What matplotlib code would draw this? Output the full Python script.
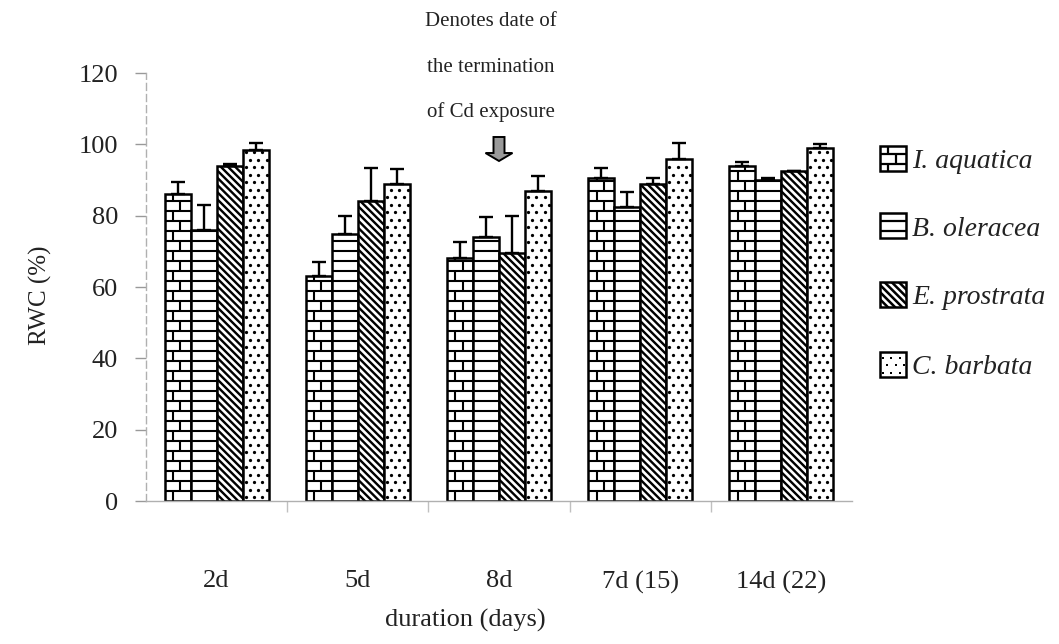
import numpy as np
import matplotlib
matplotlib.use("Agg")
import matplotlib.pyplot as plt
from matplotlib.patches import Rectangle, Polygon
from matplotlib.collections import LineCollection
from matplotlib.transforms import IdentityTransform

# ---- data -------------------------------------------------------------
durations = ["2d", "5d", "8d", "7d (15)", "14d (22)"]
species = ["I. aquatica", "B. oleracea", "E. prostrata", "C. barbata"]

rwc_aquatica = [86.0, 63.0, 68.0, 90.5, 94.0]
rwc_oleracea = [76.0, 75.0, 74.0, 82.5, 90.0]
rwc_prostrata = [94.0, 84.0, 69.5, 89.0, 92.5]
rwc_barbata = [98.5, 89.0, 87.0, 96.0, 99.0]

err_aquatica = [3.5, 4.0, 4.5, 3.0, 1.0]
err_oleracea = [7.0, 5.0, 5.5, 4.0, 0.7]
err_prostrata = [0.5, 9.5, 10.5, 1.5, 0.0]
err_barbata = [2.0, 4.0, 4.0, 4.5, 1.0]

y_ticks = [0, 20, 40, 60, 80, 100, 120]
note_lines = ["Denotes date of", "the termination", "of Cd exposure"]
marked_group = 2          # the "8d" group carries the arrow

series = [rwc_aquatica, rwc_oleracea, rwc_prostrata, rwc_barbata]
errors = [err_aquatica, err_oleracea, err_prostrata, err_barbata]
patterns = ["brick", "hlines", "diag", "dots"]

# ---- style ------------------------------------------------------------
SERIF = ["Liberation Serif", "DejaVu Serif"]
plt.rcParams["font.family"] = SERIF
TEXT = "#222222"
AXIS_GREY = "#b0b0b0"

W, H = 1059, 644
fig = plt.figure(figsize=(W / 100, H / 100), dpi=100)
ax = fig.add_axes([146 / W, (H - 501) / H, 706 / W, 428 / H])
ax.set_xlim(-0.5, len(durations) - 0.5)
ax.set_ylim(0, 120)


def pattern_artists(x0, y0, x1, y1, kind, lw=1.5):
    """Build hatch-like line segments and dot centres in pixel coordinates."""
    segs = []
    dots = None
    if kind in ("brick", "hlines"):
        step = 10.0
        ys = np.arange(y0 + step, y1, step)
        for y in ys:
            segs.append([(x0, y), (x1, y)])
        if kind == "brick":
            edges = np.concatenate([[y0], ys, [y1]])
            for k in range(len(edges) - 1):
                frac = 0.32 if k % 2 == 0 else 0.6
                xd = x0 + frac * (x1 - x0)
                segs.append([(xd, edges[k]), (xd, edges[k + 1])])
    elif kind == "diag":
        step = 7.2
        for c in np.arange(x0 + y0, x1 + y1 + step, step):
            segs.append([(c - y1 - 5, y1 + 5), (c - y0 + 5, y0 - 5)])
    elif kind == "dots":
        sx, sy = 8.4, 7.5
        pts = []
        for r, y in enumerate(np.arange(y0 + 4, y1 - 1, sy)):
            off = 3.0 if r % 2 == 0 else 3.0 + sx / 2
            for x in np.arange(x0 + off, x1 - 1, sx):
                pts.append((x, y))
        dots = np.array(pts) if pts else None
    width = lw * 1.15 if kind == "diag" else lw
    lc = LineCollection(segs, colors="black", linewidths=width,
                        transform=IdentityTransform())
    return lc, dots


# ---- bars -------------------------------------------------------------
n = len(species)
bar_w = 0.184
x = np.arange(len(durations))
for i, (vals, errs, kind) in enumerate(zip(series, errors, patterns)):
    pos = x + (i - (n - 1) / 2) * bar_w
    bars = ax.bar(pos, vals, width=bar_w, facecolor="white",
                  edgecolor="black", linewidth=1.8, zorder=2)
    for rect in bars:
        (px0, py0), (px1, py1) = ax.transData.transform(
            [(rect.get_x(), 0), (rect.get_x() + rect.get_width(), rect.get_height())])
        lc, dots = pattern_artists(px0, py0, px1, py1, kind)
        lc.set_zorder(2.5)
        ax.add_collection(lc, autolim=False)
        lc.set_clip_path(rect)
        if dots is not None:
            sc = ax.scatter(dots[:, 0], dots[:, 1], s=5.5, c="black",
                            marker="o", linewidths=0,
                            transform=IdentityTransform(), zorder=2.5)
            sc.set_clip_path(rect)
    ax.errorbar(pos, vals, yerr=[np.zeros(len(errs)), errs], fmt="none",
                ecolor="black", elinewidth=1.7, capsize=5, capthick=1.7,
                zorder=3)

# ---- axes styling -----------------------------------------------------
for side in ("top", "right"):
    ax.spines[side].set_visible(False)
ax.spines["left"].set_color(AXIS_GREY)
ax.spines["left"].set_linewidth(1.0)
ax.spines["left"].set_linestyle((0, (5, 3)))
ax.spines["bottom"].set_color(AXIS_GREY)
ax.spines["bottom"].set_linewidth(1.0)

ax.set_yticks(y_ticks)
ax.set_yticklabels([str(t) for t in y_ticks])
ax.tick_params(axis="y", direction="out", length=8, width=1.0,
               color="#999999", pad=12, labelsize=19, labelcolor=TEXT)

ax.set_xticks(x)
ax.set_xticklabels(durations)
ax.tick_params(axis="x", which="major", length=0, pad=50,
               labelsize=19, labelcolor=TEXT)
ax.set_xticks(np.arange(0.5, len(durations) - 0.5, 1.0), minor=True)
ax.tick_params(axis="x", which="minor", direction="out", length=8,
               width=1.0, color="#c0c0c0")

fig.text(40 / W, 1 - 295 / H, "RWC (%)", rotation=90, ha="center",
         va="center", fontsize=18, color=TEXT)
fig.text(465 / W, 1 - 620 / H, "duration (days)", ha="center",
         va="center", fontsize=19, color=TEXT)

# ---- annotation: note text and block arrow ----------------------------
for k, line in enumerate(note_lines):
    fig.text(491 / W, 1 - (22 + 45 * k) / H, line, ha="center",
             va="center", fontsize=15, color=TEXT)

ax_x, _ = ax.transData.transform((marked_group, 0))
top_y = H - 137
shaft_half, head_half, head_top, tip = 5.5, 13.5, H - 153, H - 161
arrow = Polygon([(ax_x - shaft_half, top_y), (ax_x + shaft_half, top_y),
                 (ax_x + shaft_half, head_top), (ax_x + head_half, head_top),
                 (ax_x, tip), (ax_x - head_half, head_top),
                 (ax_x - shaft_half, head_top)], closed=True,
                facecolor="#9a9a9a", edgecolor="black", linewidth=1.4,
                transform=IdentityTransform())
fig.add_artist(arrow)

# ---- legend, drawn as swatches with the same fills -------------------
legend_centres = [158, 225, 294, 364]
for name, kind, yc in zip(species, patterns, legend_centres):
    bx0, bx1 = 880, 906
    by0, by1 = H - yc - 12.5, H - yc + 12.5
    sw = Rectangle((bx0, by0), bx1 - bx0, by1 - by0, facecolor="white",
                   edgecolor="black", linewidth=1.8,
                   transform=IdentityTransform(), zorder=3)
    fig.add_artist(sw)
    shift = 3 if kind in ("brick", "hlines") else 0
    lc, dots = pattern_artists(bx0, by0 - shift, bx1, by1, kind, lw=1.6)
    lc.set_zorder(3.5)
    fig.add_artist(lc)
    lc.set_clip_path(sw)
    if dots is not None:
        for (dx, dy) in dots:
            d = Rectangle((dx - 1, dy - 1), 2, 2, facecolor="black",
                          edgecolor="none", transform=IdentityTransform(),
                          zorder=3.5)
            fig.add_artist(d)
            d.set_clip_path(sw)
    fig.text(912 / W, 1 - (yc + 4) / H, name, ha="left", va="center",
             fontsize=20, style="italic", color=TEXT)

fig.savefig("out.png", dpi=100)
